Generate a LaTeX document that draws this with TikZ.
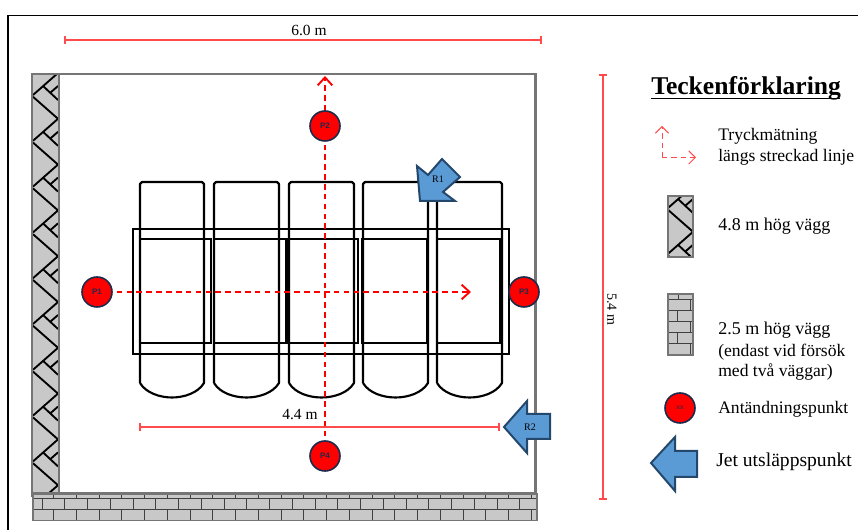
\documentclass[tikz,border=0pt]{standalone}
\usepackage{fontspec}
\setmainfont{Liberation Serif}
\setsansfont{Liberation Sans}
\usetikzlibrary{arrows.meta}
\definecolor{wallgrey}{HTML}{757575}
\definecolor{brickfill}{HTML}{C8C8C8}
\definecolor{dimred}{HTML}{FF4B4B}
\definecolor{jetblue}{HTML}{5B9BD5}
\definecolor{jetedge}{HTML}{24486B}
\definecolor{ringblue}{HTML}{1E2A4A}
\tikzset{
  unitline/.style={draw=black,line width=1.6pt,line join=round},
  thinunit/.style={draw=black,line width=1.5pt},
  wallbox/.style={draw=wallgrey,fill=brickfill,line width=2pt},
  wallline/.style={draw=wallgrey,line width=2pt},
  hatchline/.style={draw=black,line width=1.4pt},
  jointline/.style={draw=black!75,line width=0.75pt},
  dimline/.style={draw=dimred,line width=1.1pt},
  dimtick/.style={draw=dimred,line width=0.8pt},
  probe/.style={draw=red,line width=1.8pt,dash pattern=on 4.2pt off 3.2pt,-{Straight Barb[length=6pt,width=11pt,line width=1.4pt]}},
  probekey/.style={draw=dimred,line width=0.7pt,dash pattern=on 4pt off 3pt,-{Straight Barb[length=5pt,width=10pt,line width=0.7pt]}},
  ignite/.style={circle,minimum size=22.5pt,inner sep=0pt,fill=red,draw=ringblue,line width=1.2pt,font=\sffamily\bfseries\fontsize{6}{7}\selectfont,text=ringblue},
  jet/.style={fill=jetblue,draw=jetedge,line width=1.5pt,line join=miter},
  jetlabel/.style={font=\fontsize{7.5}{9}\selectfont,inner sep=0pt},
  keytext/.style={anchor=west,inner sep=0pt,font=\fontsize{13.2}{15}\selectfont},
  dimtext/.style={inner sep=0pt,font=\fontsize{11.6}{13}\selectfont},
}
% herringbone hatch: left, width, top, bottom, first chevron tip, number of periods
\newcommand{\herringhatch}[6]{%
  \begin{scope}
    \clip (#1,#3) rectangle ({#1+#2},#4);
    \foreach \k in {0,...,#6}{%
      \pgfmathsetmacro{\yy}{#5+45.8*\k}%
      \draw[hatchline,line join=miter] (#1,\yy-22) -- ({#1+#2},\yy) -- (#1,\yy+22);
      \draw[hatchline] ({#1+10},\yy+13) -- ({#1+#2},\yy+27);
      \draw[hatchline] ({#1+17},\yy+20) -- ({#1+#2},\yy+13);
    }
  \end{scope}}
\begin{document}
\begin{tikzpicture}[x=0.75pt,y=-0.75pt]
\useasboundingbox (0,0) rectangle (858,530);
% frame
\draw[black,line width=1.2pt] (8,530) -- (8,15.5) -- (858,15.5);

% room outline
\draw[wallline] (58,74) -- (535.5,74) -- (535.5,493);

% left wall
\fill[brickfill] (32,74) rectangle (59,496);
\herringhatch{33}{25}{75}{496}{73}{9}
\draw[wallbox,fill=none] (32,74) rectangle (59,496);

% bottom wall
\fill[brickfill] (33,494) rectangle (537,521);
\draw[jointline] (33,499) -- (537,499) (33,510) -- (537,510);
\foreach \i in {0,...,21}{%
  \pgfmathsetmacro{\xa}{42+22.75*\i}%
  \pgfmathsetmacro{\xb}{53.5+22.75*\i}%
  \draw[jointline] (\xa,499) -- (\xa,510);
  \draw[jointline] (\xb,494) -- (\xb,499) (\xb,510) -- (\xb,520);
}
\draw[draw=wallgrey,line width=2pt] (32,493.5) -- (537,493.5);
\draw[draw=wallgrey,line width=1pt] (33,493) -- (33,520.5) -- (537,520.5) -- (537,493);

% storage units
\foreach \a/\b in {140/204,214/279,289/354,363/428,437/502}{%
  \draw[unitline] (\a,383) -- (\a,184) -- ({\a+2},182) -- ({\b-2},182) -- (\b,184) -- (\b,383)
     .. controls ({\b-6},393) and ({\b-20},397.5) .. ({(\a+\b)/2},397.5)
     .. controls ({\a+20},397.5) and ({\a+6},393) .. (\a,383);
}
\draw[thinunit] (133,229) rectangle (509,354);
\foreach \a/\b in {140/211,214/286,288/358,362/427,437/500}{%
  \draw[thinunit] (\a,239.5) rectangle (\b,343);
}

% measuring lines
\coordinate (dimTopL) at (65,40);
\coordinate (dimTopR) at (541,40);
\draw[dimline] (dimTopL) -- (dimTopR);
\draw[dimtick] (65,36) -- (65,44) (541,36) -- (541,44);
\node[dimtext] (dimTopT) at (309,30) {6.0 m};

\coordinate (dimRT) at (603,75);
\coordinate (dimRB) at (603,499);
\draw[dimline] (dimRT) -- (dimRB);
\draw[dimtick] (599,75) -- (607,75) (599,499) -- (607,499);
\node[dimtext,rotate=-90,font=\fontsize{10.5}{12}\selectfont] (dimRText) at (612,309) {5.4 m};

\coordinate (dimInL) at (140,427);
\coordinate (dimInR) at (499,427);
\draw[dimline] (dimInL) -- (dimInR);
\draw[dimtick] (140,423) -- (140,431) (499,423) -- (499,431);
\node[dimtext] (dimInT) at (300,415) {4.4 m};

% ignition points
\coordinate (endV) at (325,76);
\coordinate (endH) at (471,292);
\coordinate (startV) at (325,456);
\coordinate (startH) at (97,292);
\draw[probe] (startV) -- (endV);
\draw[probe] (startH) -- (endH);
\node[ignite] (P1) at (97,292) {P1};
\node[ignite] (P2) at (325,126) {P2};
\node[ignite] (P3) at (524,292) {P3};
\node[ignite] (P4) at (325,456) {P4};

% jets
\draw[jet] (417,166) -- (428,175) -- (442,159) -- (460,177) -- (443,192) -- (455,201) -- (420,201) -- cycle;
\node[jetlabel] (R1) at (438,179) {R1};
\draw[jet] (504,427) -- (527,401) -- (527,414) -- (550,414) -- (550,439) -- (527,439) -- (527,453) -- cycle;
\node[jetlabel] (R2) at (530,427) {R2};

% legend
\node[anchor=base west,inner sep=0pt,font=\bfseries\fontsize{19.2}{22}\selectfont] (title) at (651,95) {Teckenförklaring};
\draw[line width=1.2pt] (651,98.5) -- (840,98.5);

\coordinate (keyO) at (662,157.5);
\coordinate (keyU) at (662,126);
\coordinate (keyR) at (696,157.5);
\draw[probekey] (keyO) -- (keyU);
\draw[probekey] (keyO) -- (keyR);
\node[keytext] (k1a) at (718,136) {Tryckmätning};
\node[keytext] (k1b) at (718,157) {längs streckad linje};

\fill[brickfill] (668,196) rectangle (693,257);
\herringhatch{668}{25}{196}{257}{186}{2}
\draw[wallbox,fill=none] (668,196) rectangle (693,257);
\node[keytext,font=\fontsize{13.5}{15}\selectfont] (k2) at (718,226) {4.8 m hög vägg};

\fill[brickfill] (668,294) rectangle (693,355);
\foreach \yy in {300,311,322,333,344}{\draw[jointline] (668,\yy) -- (693,\yy);}
\draw[jointline] (678,294) -- (678,300) (690,300) -- (690,311) (677,311) -- (677,322)
  (690,322) -- (690,333) (677,333) -- (677,344) (690,344) -- (690,355);
\draw[wallbox,fill=none] (668,294) rectangle (693,355);
\node[keytext,font=\fontsize{13.5}{15}\selectfont] (k3a) at (718,330) {2.5 m hög vägg};
\node[keytext] (k3b) at (718,352) {(endast vid försök};
\node[keytext] (k3c) at (718,372) {med två väggar)};

\node[ignite,font=\sffamily\fontsize{5}{6}\selectfont] (keyP) at (680,408) {xx};
\node[keytext] (k4) at (718,409) {Antändningspunkt};

\draw[jet] (651,463) -- (675,437) -- (675,451) -- (697,451) -- (697,477) -- (675,477) -- (675,491) -- cycle;
\node[keytext,font=\fontsize{14.7}{16}\selectfont] (k5) at (716,462) {Jet utsläppspunkt};
\end{tikzpicture}
\end{document}
